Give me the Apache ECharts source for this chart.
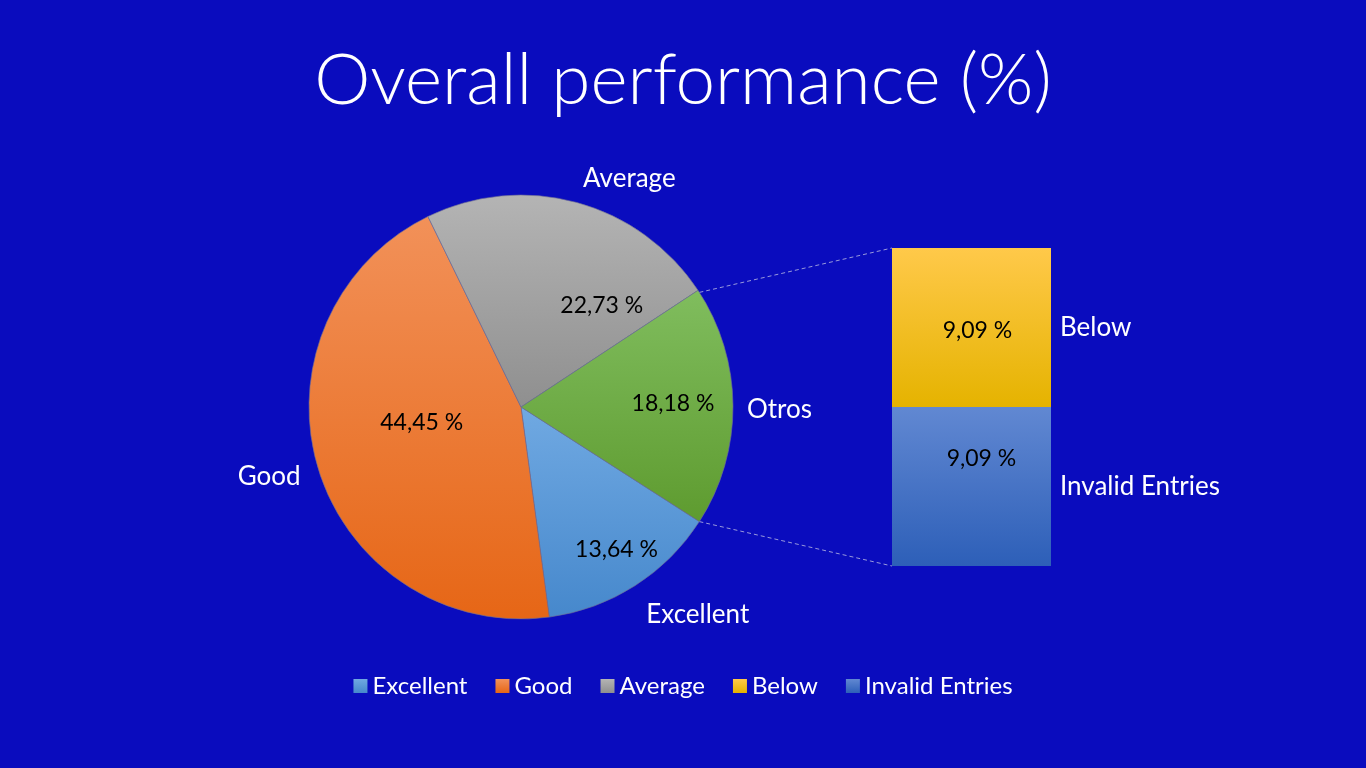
<!DOCTYPE html>
<html>
    <head>
        <meta charset="utf-8">
        <script src="https://cdn.jsdelivr.net/npm/echarts@6/dist/echarts.min.js"></script>
    </head>
    <body>
        <style>
            html, body, #main {
                width: 100%;
                height: 100%;
                margin: 0;
                background: #0a0cbe;
            }
        </style>
        <div id="main"></div>

        <script>
            // pie part
            var pieNames = ['Excellent', 'Good', 'Average', 'Otros'];
            var pieValues = [13.64, 44.45, 22.73, 18.18];
            var pieLabels = ['13,64 %', '44,45 %', '22,73 %', '18,18 %'];

            // bar part (breakdown of "Otros")
            var barNames = ['Invalid Entries', 'Below'];
            var barValues = [9.09, 9.09];
            var barLabels = ['9,09 %', '9,09 %'];

            var legendNames = ['Excellent', 'Good', 'Average', 'Below', 'Invalid Entries'];

            var FONT = 'Lato';

            function grad(top, bottom) {
                return new echarts.graphic.LinearGradient(0, 0, 0, 1, [
                    {offset: 0, color: top},
                    {offset: 1, color: bottom}
                ]);
            }

            var pieColors = [
                grad('#70a9e2', '#4688cc'),
                grad('#f29159', '#e66616'),
                grad('#b4b4b4', '#8f8f8f'),
                grad('#80bd5e', '#5e9b2f')
            ];
            var barColors = [
                grad('#6188d2', '#2d5fb8'),
                grad('#ffc94a', '#e5b300')
            ];

            // small nudges so labels sit where Excel put them
            var innerShift = [[37, 51], [5, -16], [52, 4], [43, -3]];
            var outerShift = [[0, 19], [-1, 5], [-2, -12], [-3, 4]];

            var pieCenter = [521, 407];
            var pieRadius = 212;
            // rotate so that "Otros" is centred on the right side
            var startAngle = -pieValues[3] / 100 * 180;

            var barGrid = {left: 892, top: 248, width: 159, height: 318};

            // dashed connectors from the "Otros" slice edges to the bar corners
            var a1 = startAngle * Math.PI / 180;
            var a2 = (startAngle + pieValues[3] / 100 * 360) * Math.PI / 180;
            var lineStyle = {stroke: 'rgba(200,200,230,0.75)', lineWidth: 1, lineDash: [4, 3]};

            var chart = echarts.init(document.getElementById('main'));

            var pieData = pieNames.map(function (n, i) {
                return {name: n, value: pieValues[i], itemStyle: {color: pieColors[i]}};
            });

            chart.setOption({
                backgroundColor: '#0a0cbe',
                animation: false,
                title: {
                    text: 'Overall performance (%)',
                    left: 'center',
                    top: 41,
                    textStyle: {
                        color: '#ffffff',
                        fontFamily: FONT,
                        fontWeight: 300,
                        fontSize: 71
                    }
                },
                legend: {
                    data: legendNames,
                    bottom: 65,
                    left: 'center',
                    icon: 'rect',
                    itemWidth: 14,
                    itemHeight: 14,
                    itemGap: 28,
                    itemStyle: {borderWidth: 0},
                    textStyle: {color: '#ffffff', fontFamily: FONT, fontSize: 24}
                },
                grid: {
                    left: barGrid.left,
                    top: barGrid.top,
                    width: barGrid.width,
                    height: barGrid.height
                },
                xAxis: {type: 'category', data: ['Otros'], show: false},
                yAxis: {type: 'value', min: 0, max: barValues[0] + barValues[1], show: false},
                graphic: [{
                    type: 'line',
                    silent: true,
                    shape: {
                        x1: pieCenter[0] + pieRadius * Math.cos(a2),
                        y1: pieCenter[1] - pieRadius * Math.sin(a2),
                        x2: barGrid.left,
                        y2: barGrid.top
                    },
                    style: lineStyle
                }, {
                    type: 'line',
                    silent: true,
                    shape: {
                        x1: pieCenter[0] + pieRadius * Math.cos(a1),
                        y1: pieCenter[1] - pieRadius * Math.sin(a1),
                        x2: barGrid.left,
                        y2: barGrid.top + barGrid.height
                    },
                    style: lineStyle
                }],
                series: [{
                    name: 'values',
                    type: 'pie',
                    center: pieCenter,
                    radius: pieRadius,
                    startAngle: startAngle,
                    clockwise: true,
                    avoidLabelOverlap: false,
                    itemStyle: {borderColor: 'rgba(110,110,150,0.8)', borderWidth: 0.8},
                    label: {
                        position: 'inside',
                        color: '#000000',
                        fontFamily: FONT,
                        fontSize: 23,
                        formatter: function (p) { return pieLabels[p.dataIndex]; }
                    },
                    labelLayout: function (p) {
                        return {dx: innerShift[p.dataIndex][0], dy: innerShift[p.dataIndex][1]};
                    },
                    data: pieData
                }, {
                    name: 'names',
                    type: 'pie',
                    silent: true,
                    center: pieCenter,
                    radius: pieRadius,
                    startAngle: startAngle,
                    clockwise: true,
                    avoidLabelOverlap: false,
                    itemStyle: {color: 'rgba(0,0,0,0)'},
                    label: {
                        position: 'outside',
                        color: '#ffffff',
                        fontFamily: FONT,
                        fontSize: 26,
                        formatter: '{b}'
                    },
                    labelLine: {show: false, length: 12, length2: 0},
                    labelLayout: function (p) {
                        return {dx: outerShift[p.dataIndex][0], dy: outerShift[p.dataIndex][1]};
                    },
                    data: pieNames.map(function (n, i) { return {name: n, value: pieValues[i]}; })
                }].concat(barNames.map(function (n, i) {
                    return {
                        name: n,
                        type: 'bar',
                        stack: 'otros',
                        barWidth: '100%',
                        data: [barValues[i]],
                        itemStyle: {color: barColors[i]},
                        label: {
                            show: true,
                            position: 'right',
                            distance: 9,
                            color: '#ffffff',
                            fontFamily: FONT,
                            fontSize: 26,
                            formatter: n
                        }
                    };
                })).concat(barNames.map(function (n, i) {
                    return {
                        name: n + ' value',
                        type: 'bar',
                        stack: 'otrosValues',
                        barWidth: '100%',
                        barGap: '-100%',
                        silent: true,
                        data: [barValues[i]],
                        itemStyle: {color: 'rgba(0,0,0,0)'},
                        label: {
                            show: true,
                            position: 'inside',
                            offset: i === 0 ? [10, -28] : [6, 3],
                            color: '#000000',
                            fontFamily: FONT,
                            fontSize: 23,
                            formatter: barLabels[i]
                        }
                    };
                }))
            });

            window.onresize = chart.resize;
        </script>
    </body>
</html>
